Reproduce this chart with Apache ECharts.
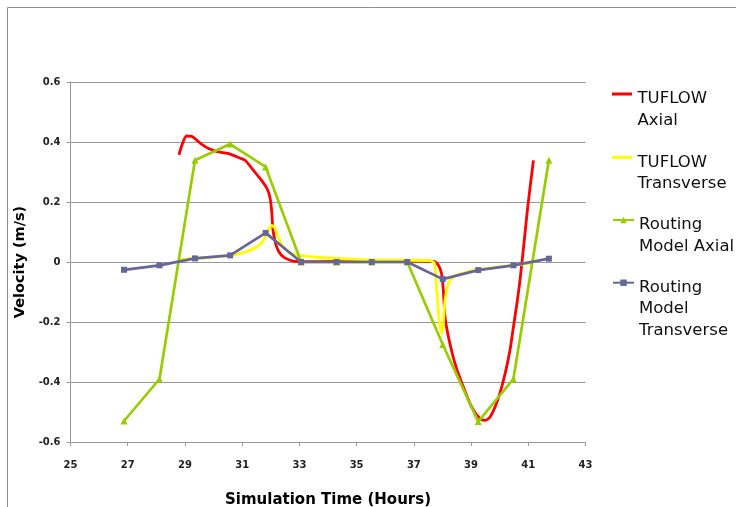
<!DOCTYPE html>
<html>
<head>
<meta charset="utf-8">
<script src="https://cdn.jsdelivr.net/npm/echarts@6/dist/echarts.min.js"></script>
<style>
html,body{margin:0;padding:0;background:#fff;}
#chart{width:736px;height:507px;}
</style>
</head>
<body>
<div id="chart"></div>
<script>
// ---- data ----
var seriesNames = ['TUFLOW\nAxial', 'TUFLOW\nTransverse', 'Routing\nModel Axial', 'Routing\nModel\nTransverse'];

var tuflowAxialX = [28.79, 29.06, 29.24, 29.41, 29.59, 29.81, 30.16, 30.50, 30.93, 31.10, 31.34, 31.62, 31.86, 31.97, 32.03, 32.08, 32.21, 32.38, 32.67, 33.02, 34.0, 35.0, 36.0, 37.0, 37.68, 37.86, 37.97, 38.03, 38.09, 38.21, 38.44, 38.73, 39.02, 39.31, 39.49, 39.66, 39.84, 40.01, 40.19, 40.36, 40.48, 40.60, 40.71, 40.86, 40.98, 41.18];
var tuflowAxialY = [0.357, 0.420, 0.419, 0.406, 0.392, 0.379, 0.367, 0.362, 0.346, 0.339, 0.312, 0.279, 0.246, 0.216, 0.172, 0.106, 0.049, 0.022, 0.006, 0.001, 0.002, 0.003, 0.003, 0.003, 0.002, -0.011, -0.039, -0.094, -0.183, -0.250, -0.339, -0.417, -0.483, -0.522, -0.528, -0.517, -0.483, -0.437, -0.372, -0.294, -0.217, -0.140, -0.061, 0.072, 0.183, 0.339];

var tuflowTransX = [28.79, 29.35, 30.57, 31.10, 31.51, 31.74, 31.91, 32.03, 32.15, 32.26, 32.44, 32.67, 33.02, 33.72, 35.0, 36.5, 37.55, 37.72, 37.80, 37.89, 37.97, 38.03, 38.09, 38.21, 38.38, 38.73, 39.31, 40.47, 41.18];
var tuflowTransY = [0.008, 0.012, 0.022, 0.033, 0.050, 0.072, 0.105, 0.122, 0.112, 0.083, 0.050, 0.030, 0.022, 0.015, 0.009, 0.006, 0.005, -0.004, -0.094, -0.194, -0.239, -0.204, -0.128, -0.072, -0.050, -0.037, -0.025, -0.011, -0.003];

var routingX = [26.87, 28.11, 29.35, 30.58, 31.82, 33.06, 34.30, 35.53, 36.77, 38.01, 39.25, 40.48, 41.72];
var routingAxialY = [-0.530, -0.390, 0.339, 0.393, 0.317, 0.0, 0.0, 0.0, 0.0, -0.275, -0.532, -0.390, 0.339];
var routingTransY = [-0.026, -0.011, 0.012, 0.022, 0.097, 0.0, 0.0, 0.0, 0.0, -0.057, -0.027, -0.011, 0.011];

var xAxisMin = 25, xAxisMax = 43, xAxisStep = 2;
var yAxisMin = -0.6, yAxisMax = 0.6, yAxisStep = 0.2;

function pairs(xs, ys) { return xs.map(function (x, i) { return [x, ys[i]]; }); }

var FONT = 'DejaVu Sans';
var colors = ['#ff0000', '#ffff00', '#99cc00', '#666699'];

// iconY: wanted vertical centre of the legend icon; first text line sits ~5px below it
function legendFor(i, iconY, itemHeight, lines, icon) {
  var lh = 21.5;
  var sp = 10 + (lines - 1) * lh;   // height of an invisible spacer line above the text
  var top = iconY - (sp + lines * lh) / 2;
  var l = {
    data: [seriesNames[i]],
    orient: 'vertical',
    left: 612,
    top: top,
    padding: 0,
    itemWidth: 21,
    itemHeight: itemHeight,
    selectedMode: false,
    formatter: function (name) {
      return '{s| }\n' + name.split('\n').map(function (t) { return '{a|' + t + '}'; }).join('\n');
    },
    textStyle: {
      fontFamily: FONT, fontSize: 16.5, color: '#111',
      rich: {
        s: {fontSize: 2, lineHeight: sp, height: sp},
        a: {fontFamily: FONT, fontSize: 16.5, color: '#111', lineHeight: lh, height: lh}
      }
    }
  };
  if (icon) l.icon = icon;
  return l;
}

var chart = echarts.init(document.getElementById('chart'), null, {renderer: 'canvas'});
chart.setOption({
  animation: false,
  backgroundColor: '#ffffff',
  graphic: [{
    type: 'rect', silent: true, z: -10,
    shape: {x: 7.5, y: 7.5, width: 900, height: 700},
    style: {fill: 'none', stroke: '#8c8c8c', lineWidth: 1}
  }],
  legend: [
    legendFor(0, 94, 3, 2, 'path://M0,0L20,0L20,3L0,3Z'),
    legendFor(1, 157.3, 3, 2, 'path://M0,0L20,0L20,3L0,3Z'),
    legendFor(2, 220, 8, 2),
    legendFor(3, 282.7, 8, 3)
  ],
  grid: {left: 70.5, right: 150.5, top: 82, bottom: 65, containLabel: false, outerBoundsMode: 'none'},
  xAxis: {
    type: 'value', min: xAxisMin, max: xAxisMax, interval: xAxisStep,
    name: 'Simulation Time (Hours)', nameLocation: 'middle', nameGap: 51,
    nameTextStyle: {fontFamily: FONT, fontSize: 15, fontWeight: 'bold', color: '#000'},
    axisLine: {onZero: false, lineStyle: {color: '#999', width: 1}},
    axisTick: {show: true, inside: false, length: 4, lineStyle: {color: '#999'}},
    axisLabel: {fontFamily: FONT, fontSize: 10, fontWeight: 'bold', color: '#222', margin: 18},
    splitLine: {show: false}
  },
  yAxis: {
    type: 'value', min: yAxisMin, max: yAxisMax, interval: yAxisStep,
    name: 'Velocity (m/s)', nameLocation: 'middle', nameGap: 29, nameRotate: 90,
    nameTextStyle: {fontFamily: FONT, fontSize: 14.5, fontWeight: 'bold', color: '#000'},
    axisLine: {show: true, lineStyle: {color: '#999', width: 1}},
    axisTick: {show: true, inside: false, length: 4, lineStyle: {color: '#999'}},
    axisLabel: {fontFamily: FONT, fontSize: 10, fontWeight: 'bold', color: '#222', margin: 10},
    splitLine: {show: true, lineStyle: {color: '#999', width: 1}}
  },
  series: [
    {
      name: seriesNames[0], type: 'line', data: pairs(tuflowAxialX, tuflowAxialY),
      symbol: 'none', smooth: 0.25,
      lineStyle: {color: colors[0], width: 2.8}, itemStyle: {color: colors[0]}
    },
    {
      name: seriesNames[1], type: 'line', data: pairs(tuflowTransX, tuflowTransY),
      symbol: 'none', smooth: 0.25,
      lineStyle: {color: colors[1], width: 2.8}, itemStyle: {color: colors[1]}
    },
    {
      name: seriesNames[2], type: 'line', data: pairs(routingX, routingAxialY),
      symbol: 'triangle', symbolSize: 7, showSymbol: true,
      lineStyle: {color: colors[2], width: 2.7}, itemStyle: {color: colors[2]}
    },
    {
      name: seriesNames[3], type: 'line', data: pairs(routingX, routingTransY),
      symbol: 'rect', symbolSize: 6, showSymbol: true,
      lineStyle: {color: colors[3], width: 2.7}, itemStyle: {color: colors[3]}
    }
  ]
});
</script>
</body>
</html>
